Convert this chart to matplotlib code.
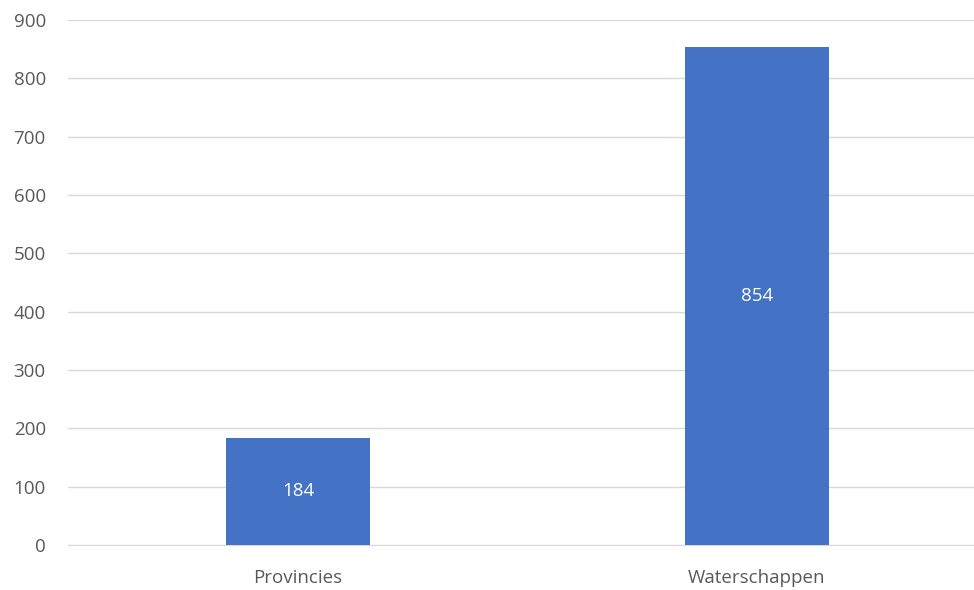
import matplotlib
matplotlib.use('Agg')
import matplotlib.pyplot as plt

categories = ['Provincies', 'Waterschappen']
values = [184, 854]
yticks = [0, 100, 200, 300, 400, 500, 600, 700, 800, 900]

fig = plt.figure(figsize=(9.74, 5.9), dpi=100)
ax = fig.add_axes([68 / 974, 1 - 545 / 590, 1 - 68 / 974, (545 - 20) / 590])

x = list(range(len(categories)))
bars = ax.bar(x, values, width=0.312, color='#4472c4', zorder=3)
for b, v in zip(bars, values):
    ax.text(b.get_x() + b.get_width() / 2, v / 2, str(v), ha='center', va='center',
            color='white', fontsize=13.5, family='Open Sans')

ax.set_xlim(-0.501, 1.473)
ax.set_ylim(0, 900)
ax.set_yticks(yticks)
ax.set_xticks(x)
ax.set_xticklabels(categories)
ax.grid(axis='y', color='#d9d9d9', linewidth=1, zorder=0)
for s in ['top', 'right', 'left']:
    ax.spines[s].set_visible(False)
ax.spines['bottom'].set_color('#d9d9d9')
ax.tick_params(axis='both', length=0, colors='#595959', labelsize=13.5)
ax.tick_params(axis='y', pad=16)
ax.tick_params(axis='x', pad=17)
for lab in ax.get_xticklabels() + ax.get_yticklabels():
    lab.set_family('Open Sans')

fig.savefig('out.png', dpi=100)
